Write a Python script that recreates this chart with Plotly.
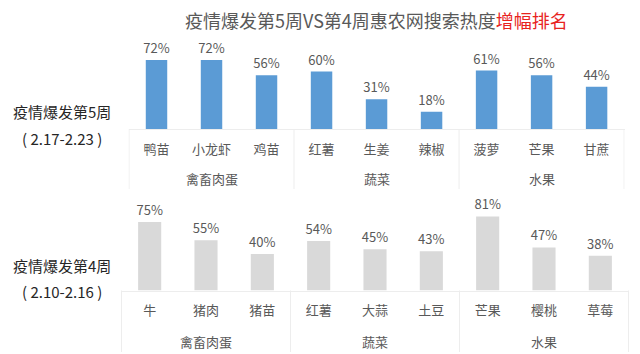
import plotly.graph_objects as go

# ---- data ----
top_items = ["鸭苗", "小龙虾", "鸡苗", "红薯", "生姜", "辣椒", "菠萝", "芒果", "甘蔗"]
top_values = [72, 72, 56, 60, 31, 18, 61, 56, 44]
bottom_items = ["牛", "猪肉", "猪苗", "红薯", "大蒜", "土豆", "芒果", "樱桃", "草莓"]
bottom_values = [75, 55, 40, 54, 45, 43, 81, 47, 38]
groups = ["禽畜肉蛋", "蔬菜", "水果"]
group_size = 3
title_main = "疫情爆发第5周VS第4周惠农网搜索热度"
title_red = "增幅排名"
top_label = ["疫情爆发第5周", "( 2.17-2.23 )"]
bottom_label = ["疫情爆发第4周", "( 2.10-2.16 )"]

W, H = 640, 354
FONT = "Noto Sans CJK SC, Microsoft YaHei, sans-serif"
TXT = "#595959"


def py(px):
    return 1 - px / H


fig = go.Figure()
fig.add_trace(go.Bar(
    x=top_items, y=top_values, xaxis="x", yaxis="y",
    marker=dict(color="#5b9bd5", line=dict(width=0)), width=0.39,
    text=[f"{v}%" for v in top_values], textposition="outside",
    constraintext="none",
    textfont=dict(size=13, color=TXT, family=FONT), cliponaxis=False,
    hoverinfo="skip",
))
fig.add_trace(go.Bar(
    x=bottom_items, y=bottom_values, xaxis="x2", yaxis="y2",
    marker=dict(color="#d9d9d9", line=dict(width=0)), width=0.41,
    text=[f"{v}%" for v in bottom_values], textposition="outside",
    constraintext="none",
    textfont=dict(size=13, color=TXT, family=FONT), cliponaxis=False,
    hoverinfo="skip",
))

top_base, top_scale, top_top = 129, 0.958, 40
bot_base, bot_scale, bot_top = 290.5, 0.915, 205

axis_common = dict(
    type="category", showgrid=False, zeroline=False, showline=True,
    linecolor="#ededed", linewidth=1, ticks="", fixedrange=True,
    tickfont=dict(size=13, color=TXT, family=FONT), ticklabelstandoff=8,
)
fig.update_layout(
    width=W, height=H, margin=dict(l=0, r=0, t=0, b=0),
    paper_bgcolor="white", plot_bgcolor="white", showlegend=False,
    font=dict(family=FONT, color=TXT),
    xaxis=dict(domain=[128.5 / W, 624.6 / W], anchor="y", **axis_common),
    yaxis=dict(domain=[py(top_base), py(top_top)],
               range=[0, (top_base - top_top) / top_scale],
               visible=False, fixedrange=True),
    xaxis2=dict(domain=[121 / W, 629 / W], anchor="y2", **axis_common),
    yaxis2=dict(domain=[py(bot_base), py(bot_top)],
                range=[0, (bot_base - bot_top) / bot_scale],
                visible=False, fixedrange=True),
)

shapes = []
annotations = []
sep_color = "#ededed"
for xr, base, lowest, items, grp_y in [
    ("x", top_base, 189, top_items, 179),
    ("x2", bot_base, 352, bottom_items, 341),
]:
    for k in range(len(groups) + 1):
        shapes.append(dict(type="line", xref=xr, yref="paper",
                           x0=k * group_size - 0.5, x1=k * group_size - 0.5,
                           y0=py(base), y1=py(lowest),
                           line=dict(color=sep_color, width=1)))
    for g, name in enumerate(groups):
        annotations.append(dict(xref=xr, yref="paper",
                                x=g * group_size + (group_size - 1) / 2,
                                y=py(grp_y), text=name, showarrow=False,
                                font=dict(size=13, color=TXT, family=FONT),
                                xanchor="center", yanchor="middle"))

for lines, ys in [(top_label, (112, 138)), (bottom_label, (265, 291))]:
    for t, yy in zip(lines, ys):
        annotations.append(dict(xref="paper", yref="paper", x=62 / W, y=py(yy),
                                text=t, showarrow=False,
                                font=dict(size=15, color="#262626", family=FONT),
                                xanchor="center", yanchor="middle"))

annotations.append(dict(
    xref="paper", yref="paper", x=376 / W, y=py(20),
    text=f"{title_main}<span style='color:#e8231e'>{title_red}</span>",
    showarrow=False, font=dict(size=18, color=TXT, family=FONT),
    xanchor="center", yanchor="middle"))

fig.update_layout(shapes=shapes, annotations=annotations)
fig.write_html("out.html")
